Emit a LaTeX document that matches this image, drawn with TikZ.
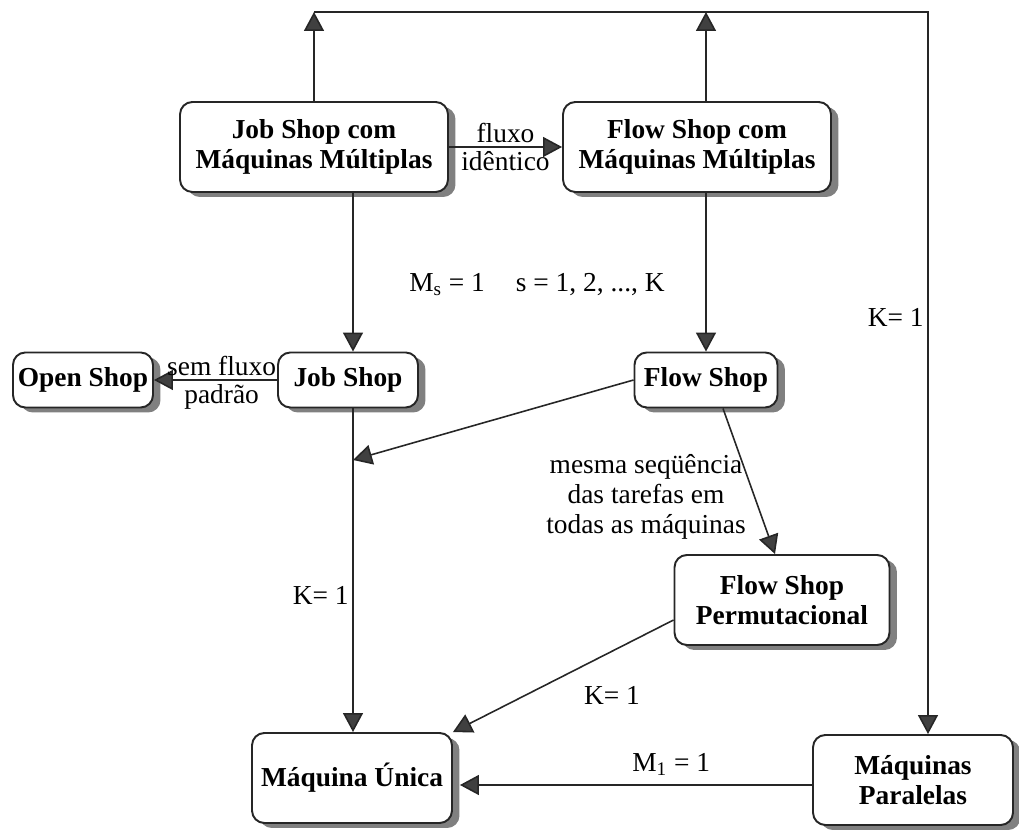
\documentclass[tikz,border=0pt]{standalone}
\usepackage{fontspec}
\setmainfont{Liberation Serif}
\usetikzlibrary{arrows.meta, shadows}

\begin{document}
\begin{tikzpicture}[
  x=0.02cm, y=-0.02cm,
  box/.style={rectangle, rounded corners=7pt, draw=black!85, line width=1.1pt, fill=white,
              align=center, inner sep=2pt, font=\fontsize{15.6}{17}\selectfont\bfseries,
              drop shadow={shadow xshift=0.15cm, shadow yshift=-0.1cm, fill=black!50, opacity=1}},
  big/.style={box, minimum width=5.36cm, minimum height=1.8cm},
  small/.style={box, minimum width=2.8cm, minimum height=1.1cm},
  low/.style={box, minimum width=4cm, minimum height=1.8cm},
  arr/.style={-{Triangle[length=0.38cm, width=0.4cm, fill=black!75]}, line width=0.9pt, draw=black!85},
  lbl/.style={font=\fontsize{15.6}{17}\selectfont, align=center, inner sep=2pt}
]
  \useasboundingbox (0,0) rectangle (1019,830);

  \node[big]   (jsmm)  at (314,147) {Job Shop com\\Máquinas Múltiplas};
  \node[big]   (fsmm)  at (697,147) {Flow Shop com\\Máquinas Múltiplas};
  \node[small] (open)  at (83,380)  {Open Shop};
  \node[small] (job)   at (348,380) {Job Shop};
  \node[small, minimum width=2.86cm] (flow) at (706,380) {Flow Shop};
  \node[low, minimum width=4.3cm] (perm) at (782,600) {Flow Shop\\Permutacional};
  \node[low]   (unica) at (352,778) {Máquina Única};
  \node[low]   (paral) at (913,780) {Máquinas\\Paralelas};

  \coordinate (busL) at (314,12);
  \coordinate (busR) at (928,12);
  \coordinate (meet) at (353,460);

  \draw[arr] (jsmm.north) -- (busL);
  \draw[arr] (fsmm.north -| flow) -- (busL -| flow);
  \draw[arr] (busL) -- (busR) -- (busR |- paral.north) node[lbl, left, pos=0.423] (k3) {K= 1};

  \draw[arr] (jsmm.east) -- (fsmm.west)
    node[lbl, above, midway] (flx) {fluxo}
    node[lbl, below, midway] (idt) {idêntico};
  \draw[arr] (jsmm.south -| meet) -- (job.north -| meet);
  \draw[arr] (fsmm.south -| flow) -- (flow.north);
  \node[lbl] (ms) at (537,285) {M\textsubscript{s} = 1\hspace{0.62cm}s = 1, 2, ..., K};

  \draw[arr] (job.west) -- (open.east)
    node[lbl, above, pos=0.45] (sf) {sem fluxo}
    node[lbl, below, pos=0.45] (pd) {padrão};
  \draw[arr] (job.south -| meet) -- (unica.north -| meet) node[lbl, left, pos=0.577] (k1) {K= 1};
  \draw[arr] (flow.west) -- (meet);

  \draw[arr] ([xshift=0.34cm]flow.south) -- ([xshift=-0.14cm]perm.north);
  \node[lbl] (seq) at (646,497) {mesma seqüência\\das tarefas em\\todas as máquinas};

  \draw[arr] ([yshift=-0.4cm]perm.west) -- (unica.north east);
  \node[lbl] (k2) at (612,695) {K= 1};

  \draw[arr] ([yshift=-0.1cm]paral.west) -- ([yshift=-0.1cm,xshift=0.14cm]paral.west -| unica.east)
    node[lbl, above=3pt, pos=0.4] (m1) {M\textsubscript{1} = 1};
\end{tikzpicture}
\end{document}
